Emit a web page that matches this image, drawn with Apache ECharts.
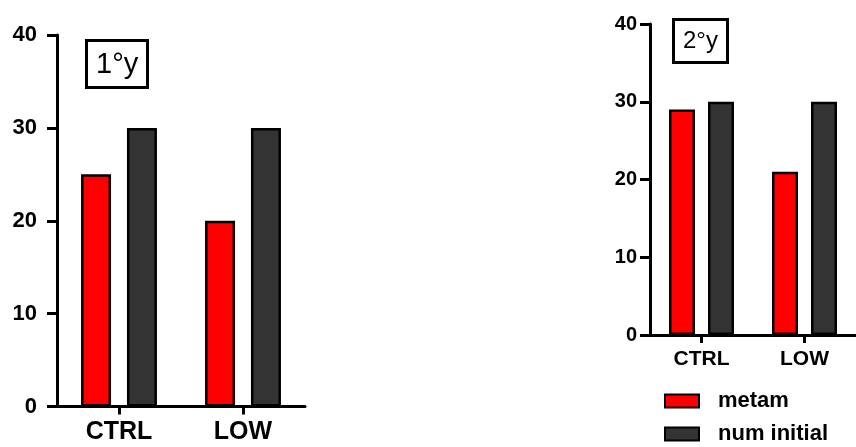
<!DOCTYPE html>
<html>
<head>
<meta charset="utf-8">
<script src="https://cdn.jsdelivr.net/npm/echarts@6/dist/echarts.min.js"></script>
<style>
html,body{margin:0;padding:0;background:#fff;}
#chart{width:856px;height:447px;}
</style>
</head>
<body>
<div id="chart"></div>
<script>
const categories = ['CTRL', 'LOW'];
const seriesNames = ['metam', 'num initial'];
const metam1 = [25, 20];
const numInitial1 = [30, 30];
const metam2 = [29, 21];
const numInitial2 = [30, 30];
const panelTitles = ['1°y', '2°y'];

const FONT = 'Liberation Sans, Arial, sans-serif';
const RED = '#ff0000';
const DARK = '#333333';

function yAxis(gridIndex, fontSize, margin) {
  return {
    type: 'value', gridIndex: gridIndex, min: 0, max: 40, interval: 10,
    splitLine: { show: false },
    axisLine: { show: true, lineStyle: { color: '#000', width: 3 } },
    axisTick: { show: true, inside: false, length: 10, lineStyle: { color: '#000', width: 3 } },
    axisLabel: { fontSize: fontSize, fontWeight: 'bold', color: '#000', fontFamily: FONT, margin: margin }
  };
}
function xAxis(gridIndex, fontSize, margin) {
  return {
    type: 'category', gridIndex: gridIndex, data: categories,
    axisLine: { show: true, lineStyle: { color: '#000', width: 3 } },
    axisTick: { show: true, alignWithLabel: true, length: 8, lineStyle: { color: '#000', width: 3 } },
    axisLabel: { fontSize: fontSize, fontWeight: 'bold', color: '#000', fontFamily: FONT, margin: margin }
  };
}
function bar(name, data, color, idx, width, gap) {
  return {
    name: name, type: 'bar', data: data, xAxisIndex: idx, yAxisIndex: idx,
    barWidth: width, barGap: gap,
    itemStyle: { color: color, borderColor: '#000', borderWidth: 2.5 },
    emphasis: { disabled: true }
  };
}
function legendItem(name, top) {
  return {
    orient: 'vertical', left: 664, top: top, padding: 0,
    itemWidth: 34, itemHeight: 13,
    icon: 'rect',
    data: [name],
    textStyle: { fontSize: 22, fontWeight: 'bold', color: '#000', fontFamily: FONT, padding: [0, 0, 0, 14] }
  };
}

const chart = echarts.init(document.getElementById('chart'), null, { renderer: 'canvas' });
chart.setOption({
  animation: false,
  backgroundColor: '#fff',
  title: [
    { text: panelTitles[0], left: 86, top: 40, padding: [10, 10, 9, 10], borderColor: '#000', borderWidth: 3,
      textStyle: { fontSize: 29, fontWeight: 'normal', color: '#000', fontFamily: FONT } },
    { text: panelTitles[1], left: 673, top: 19, padding: [10, 10, 10, 10], borderColor: '#000', borderWidth: 3,
      textStyle: { fontSize: 24, fontWeight: 'normal', color: '#000', fontFamily: FONT } }
  ],
  grid: [
    { left: 57, right: 551, top: 35, bottom: 40.5, containLabel: false },
    { left: 650, right: -2, top: 24, bottom: 112, containLabel: false }
  ],
  xAxis: [xAxis(0, 25, 13), xAxis(1, 21, 14)],
  yAxis: [yAxis(0, 22, 20), yAxis(1, 20, 13)],
  legend: [legendItem(seriesNames[0], 390), legendItem(seriesNames[1], 423)],
  series: [
    bar(seriesNames[0], metam1, RED, 0, 30, '53%'),
    bar(seriesNames[1], numInitial1, DARK, 0, 30, '53%'),
    bar(seriesNames[0], metam2, RED, 1, 26, '50%'),
    bar(seriesNames[1], numInitial2, DARK, 1, 26, '50%')
  ]
});
</script>
</body>
</html>
